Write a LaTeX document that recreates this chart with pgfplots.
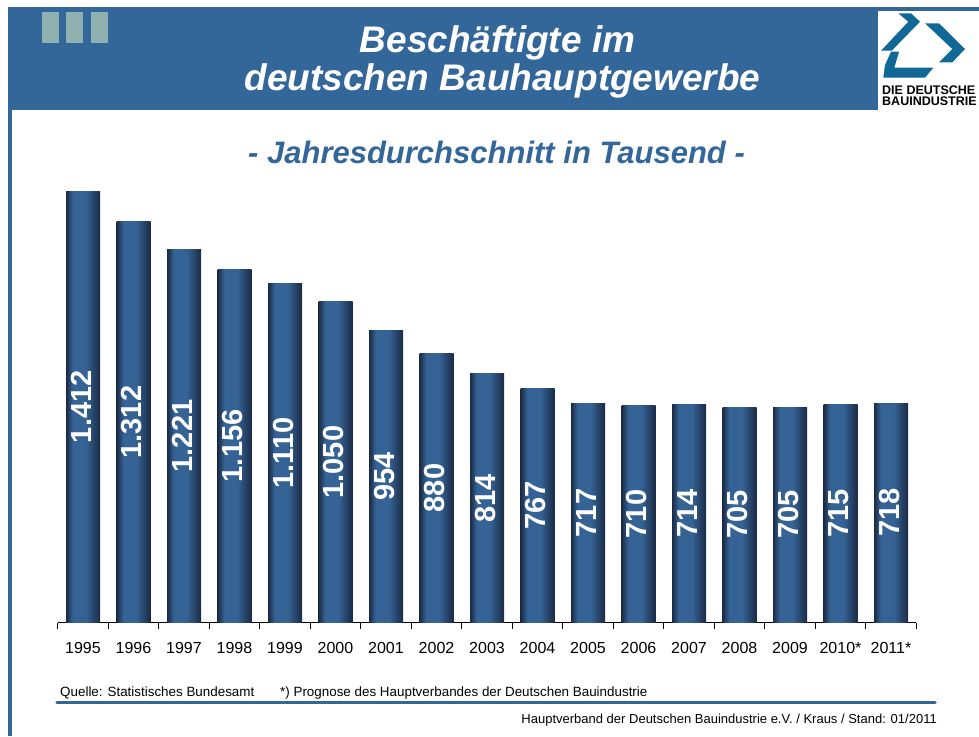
\documentclass[border=0pt]{standalone}
\usepackage{fontspec}
\setmainfont{Liberation Sans}
\usepackage{pgfplots}
\pgfplotsset{compat=1.18}
\usepackage{pgfplotstable}

\definecolor{band}{RGB}{51,102,153}
\definecolor{sq}{RGB}{143,178,176}
\definecolor{logoblue}{RGB}{16,104,150}
\definecolor{bdark}{RGB}{26,42,68}
\definecolor{blight}{RGB}{53,99,149}

\pgfdeclarehorizontalshading{barshade}{100bp}{color(0bp)=(bdark); color(25bp)=(bdark); color(35bp)=(blight); color(54bp)=(blight); color(75bp)=(bdark); color(100bp)=(bdark)}

\pgfplotstableread{
x y label
0 1412 1.412
1 1312 1.312
2 1221 1.221
3 1156 1.156
4 1110 1.110
5 1050 1.050
6 954 954
7 880 880
8 814 814
9 767 767
10 717 717
11 710 710
12 714 714
13 705 705
14 705 705
15 715 715
16 718 718
}\datatable

\begin{document}
\begin{tikzpicture}[x=1pt,y=1pt]
\useasboundingbox (0,0) rectangle (979,-736);
% header band
\fill[band] (8,-7) rectangle (979,-110);
\fill[band] (8,-110) rectangle (12,-736);
% squares
\fill[sq] (41.7,-11.7) rectangle (59.3,-42.7);
\fill[sq] (66,-11.7) rectangle (82.7,-42.7);
\fill[sq] (91,-11.7) rectangle (107.7,-42.7);
% logo
\fill[white] (878,-11) rectangle (979,-112);
\fill[logoblue] (898.3,-13.3) -- (911,-13.3) -- (920,-21.7) -- (891.7,-50.7) -- (881,-50.7) -- (908.3,-21.7) -- cycle;
\fill[logoblue] (925,-23.3) -- (939,-23.3) -- (965,-49) -- (952.3,-62.3) -- (939,-62.3) -- (952.3,-49) -- cycle;
\fill[logoblue] (891,-51.7) -- (899,-51.7) -- (894.3,-67.7) -- (933.3,-67.7) -- (925,-77.7) -- (883.3,-77.7) -- (885,-65) -- cycle;
\begin{scope}
\clip (878,-11) rectangle (979,-112);
\node[anchor=base west, inner sep=0pt, font=\fontsize{12.5}{12.5}\selectfont\bfseries] at (882,-94.5) {DIE DEUTSCHE};
\node[anchor=base west, inner sep=0pt, font=\fontsize{12.5}{12.5}\selectfont\bfseries] at (882,-105.5) {BAUINDUSTRIE};
\end{scope}
% titles
\node[anchor=base, inner sep=0pt, text=white, font=\fontsize{37}{40}\selectfont\bfseries\itshape] at (497.5,-52) {Beschäftigte im};
\node[anchor=base, inner sep=0pt, text=white, font=\fontsize{37}{40}\selectfont\bfseries\itshape] at (502.5,-90) {deutschen Bauhauptgewerbe};
\node[anchor=base, inner sep=0pt, text=band, font=\fontsize{31}{32}\selectfont\bfseries\itshape] at (496.5,-163.5) {- Jahresdurchschnitt in Tausend -};
% footer
\node[anchor=base west, inner sep=0pt, font=\fontsize{13.4}{14}\selectfont] at (60,-696) {Quelle: Statistisches Bundesamt};
\node[anchor=base west, inner sep=0pt, font=\fontsize{13.4}{14}\selectfont] at (280,-696) {*) Prognose des Hauptverbandes der Deutschen Bauindustrie};
\draw[band, line width=3.5pt, line cap=round] (57,-702.5) -- (935,-702.5);
\node[anchor=base east, inner sep=0pt, font=\fontsize{13}{14}\selectfont] at (937,-723) {Hauptverband der Deutschen Bauindustrie e.V. / Kraus / Stand: 01/2011};

\begin{axis}[
  at={(57.75pt,-622.5pt)}, anchor=south west, scale only axis,
  width=858.5pt, height=431.5pt,
  xmin=-0.5, xmax=16.5, ymin=0, ymax=1412,
  axis x line*=bottom, axis y line=none,
  x axis line style={-, line width=1.3pt, black},
  xtick={0,...,16},
  xticklabels={1995,1996,1997,1998,1999,2000,2001,2002,2003,2004,2005,2006,2007,2008,2009,2010*,2011*},
  minor xtick={-0.5,0.5,...,16.5},
  major tick length=0pt, minor tick length=6pt, tick align=outside,
  minor tick style={line width=1.1pt, black},
  xticklabel style={font=\fontsize{16}{16}\selectfont, yshift=-16pt},
  /pgf/number format/assume math mode=true,
  clip=false,
]
\pgfplotsinvokeforeach{0,...,16}{
  \addplot[ybar, bar width=34pt, draw=none, shading=barshade,
    y filter/.expression={abs(x-#1)<0.1 ? y : nan}]
    table[x=x, y=y]{\datatable};
}
\addplot[draw=none, mark=none,
  nodes near coords, point meta=explicit symbolic,
  nodes near coords align={center},
  visualization depends on={rawy \as \rawy},
  every node near coord/.append style={shift={(axis direction cs:0,-\rawy/2)}, xshift=-1.5pt, rotate=90, anchor=center, text=white,
     font=\fontsize{29}{29}\selectfont\bfseries}]
  table[x=x, y=y, meta=label]{\datatable};
\end{axis}
\end{tikzpicture}
\end{document}
